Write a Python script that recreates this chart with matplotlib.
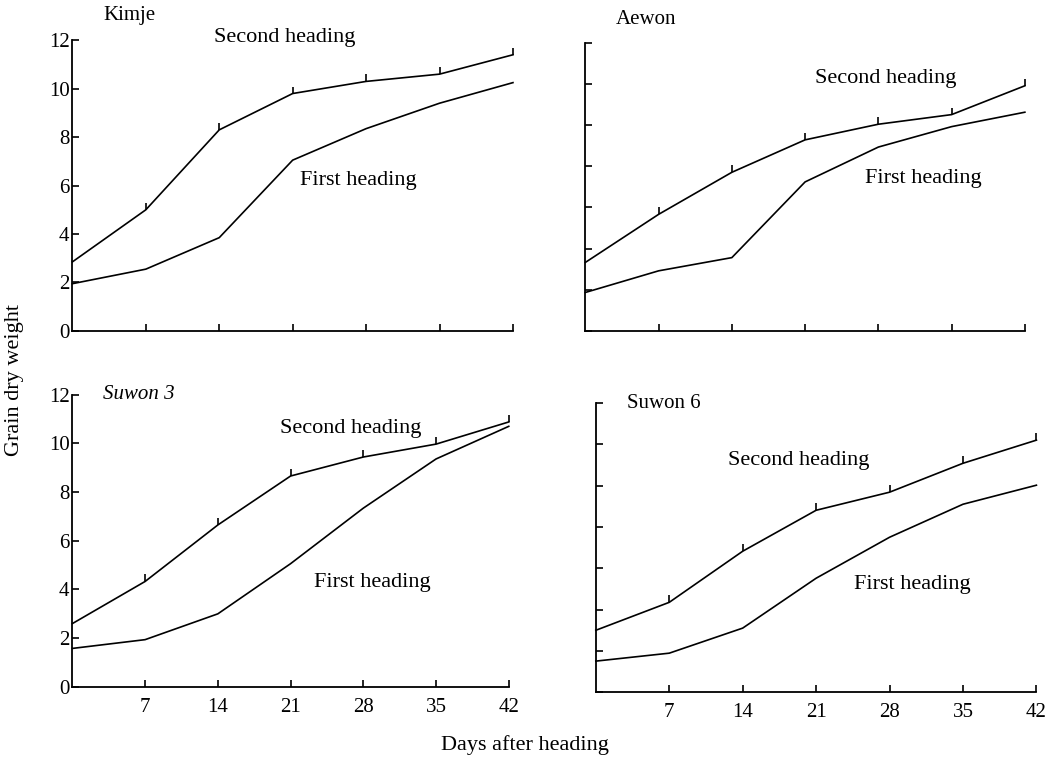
import numpy as np
import matplotlib
matplotlib.use("Agg")
import matplotlib.pyplot as plt
from matplotlib.markers import TICKUP

plt.rcParams['font.family'] = ['Liberation Serif', 'DejaVu Serif']

days = [0, 7, 14, 21, 28, 35, 42]
x_ticks = [7, 14, 21, 28, 35, 42]

# grain dry weight
kimje_second = [2.85, 5.0, 8.3, 9.8, 10.3, 10.6, 11.4]
kimje_first = [1.95, 2.55, 3.85, 7.05, 8.35, 9.4, 10.25]
aewon_second = [2.85, 4.85, 6.6, 7.95, 8.6, 9.0, 10.2]
aewon_first = [1.6, 2.5, 3.05, 6.2, 7.65, 8.5, 9.1]
suwon3_second = [2.6, 4.33, 6.65, 8.66, 9.44, 9.97, 10.88]
suwon3_first = [1.58, 1.94, 3.0, 5.06, 7.34, 9.36, 10.7]
suwon6_second = [2.57, 3.73, 5.85, 7.55, 8.3, 9.5, 10.46]
suwon6_first = [1.29, 1.62, 2.66, 4.73, 6.43, 7.8, 8.59]

panels = [
    ("Kimje", kimje_second, kimje_first, [0.069, 0.564, 0.420, 0.383],
     (20.2, 12.1), (27.3, 6.2), 1.085, 'normal', True, False),
    ("Aewon", aewon_second, aewon_first, [0.558, 0.564, 0.419, 0.380],
     (28.7, 10.5), (32.3, 6.35), 1.08, 'normal', False, False),
    ("Suwon 3", suwon3_second, suwon3_first, [0.069, 0.095, 0.416, 0.385],
     (26.8, 10.6), (28.9, 4.3), 1.0, 'italic', True, True),
    ("Suwon 6", suwon6_second, suwon6_first, [0.568, 0.088, 0.420, 0.381],
     (19.3, 9.6), (30.2, 4.45), 1.0, 'normal', False, True),
]

fig = plt.figure(figsize=(10.49, 7.59), dpi=100)

for name, second, first, pos, s_xy, f_xy, title_y, title_style, ylab, xlab in panels:
    ax = fig.add_axes(pos)
    ax.plot(days, second, color='black', lw=1.2, marker=TICKUP, markersize=5,
            markeredgewidth=1.2, markevery=slice(1, None), clip_on=False)
    ax.plot(days, first, color='black', lw=1.2, clip_on=False)
    ax.text(s_xy[0], s_xy[1], "Second heading", fontsize=16, ha='center', va='center')
    ax.text(f_xy[0], f_xy[1], "First heading", fontsize=16, ha='center', va='center')
    ax.text(0.07, title_y, name, transform=ax.transAxes, fontsize=15,
            style=title_style, ha='left', va='center')

    ax.set_xlim(0, 42)
    ax.set_ylim(0, 12)
    ax.spines['top'].set_visible(False)
    ax.spines['right'].set_visible(False)
    for sp in ax.spines.values():
        sp.set_linewidth(1.3)
    ax.set_xticks(x_ticks)
    if ylab:
        ax.set_yticks(range(0, 13, 2))
    else:
        ax.set_yticks(np.linspace(0, 12, 8))
        ax.set_yticklabels([])
    if not xlab:
        ax.set_xticklabels([])
    ax.tick_params(direction='in', length=5, width=1.2, labelsize=15)
    ax.tick_params(axis='y', pad=2)
    ax.tick_params(axis='x', pad=8)

fig.text(0.014, 0.5, "Grain dry weight", rotation=90, fontsize=16,
         ha='center', va='center')
fig.text(0.5, 0.018, "Days after heading", fontsize=16, ha='center', va='center')

fig.savefig("out.png", dpi=100)
